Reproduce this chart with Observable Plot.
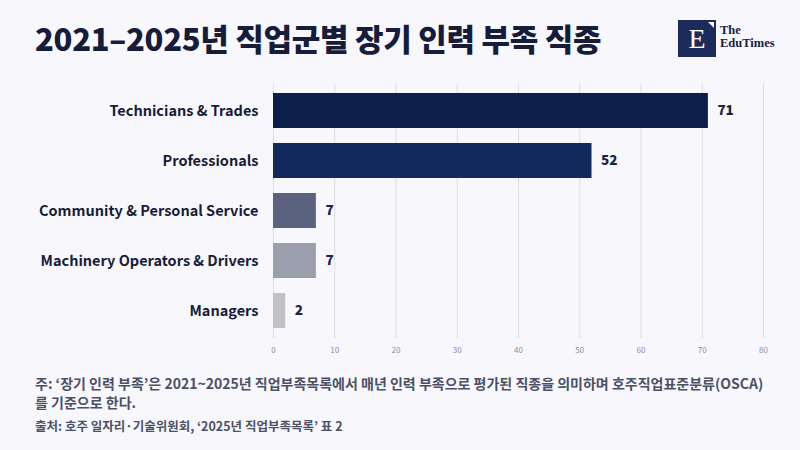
<!DOCTYPE html>
<html><head><meta charset="utf-8">
<script src="https://cdn.jsdelivr.net/npm/d3@7"></script>
<script src="https://cdn.jsdelivr.net/npm/@observablehq/plot@0.6"></script>
<style>
html,body{margin:0;padding:0;background:#f8f8fc;width:800px;height:450px;overflow:hidden;font-family:"Noto Sans CJK KR","Noto Sans",sans-serif;}
#wrap{position:relative;width:800px;height:450px;}
#title{position:absolute;left:35px;top:15px;font-size:31px;font-weight:900;color:#171c3a;letter-spacing:-0.3px;white-space:nowrap;}
#logo{position:absolute;left:678px;top:20px;width:38px;height:37px;background:#1b2b5c;}
#logo .E{position:absolute;left:0;top:0;width:38px;height:37px;text-align:center;line-height:37px;color:#fff;font-family:"Liberation Serif","DejaVu Serif",serif;font-size:28px;}
#logo .tri{position:absolute;right:2px;top:2px;width:0;height:0;border-top:6px solid #fff;border-left:6px solid transparent;}
#logotxt{position:absolute;left:720px;top:24px;font-family:"Liberation Serif","DejaVu Serif",serif;font-size:12.5px;line-height:13px;color:#1b2040;font-weight:700;}
#chart{position:absolute;left:0;top:75px;}
#note{position:absolute;left:35px;top:374px;font-size:14px;line-height:19px;font-weight:600;color:#4b5066;width:760px;white-space:nowrap;}
#src{position:absolute;left:35px;top:416px;font-size:12.5px;font-weight:600;color:#4b5066;}
</style></head>
<body><div id="wrap">
<div id="title">2021–2025년 직업군별 장기 인력 부족 직종</div>
<div id="logo"><div class="E">E</div><div class="tri"></div></div>
<div id="logotxt">The<br>EduTimes</div>
<div id="chart"></div>
<div id="note">주: ‘장기 인력 부족’은 2021~2025년 직업부족목록에서 매년 인력 부족으로 평가된 직종을 의미하며 호주직업표준분류(OSCA)<br>를 기준으로 한다.</div>
<div id="src">출처: 호주 일자리·기술위원회, ‘2025년 직업부족목록’ 표 2</div>
</div>
<script>
const categories = ["Technicians & Trades","Professionals","Community & Personal Service","Machinery Operators & Drivers","Managers"];
const values = [71,52,7,7,2];
const colors = ["#0c1f4b","#132a5f","#5a6280","#9b9eac","#c1c2c9"];
const xTicks = [0,10,20,30,40,50,60,70,80];

const data = categories.map((c,i)=>({cat:c,value:values[i],color:colors[i]}));

const plot = Plot.plot({
  width: 800,
  height: 288,
  marginLeft: 273,
  marginRight: 37,
  marginTop: 8,
  marginBottom: 25,
  style:{background:"transparent",fontFamily:"'Noto Sans CJK KR','Noto Sans',sans-serif"},
  x:{domain:[0,80],ticks:xTicks,label:null},
  y:{domain:categories,label:null,paddingInner:0.3,paddingOuter:0.18},
  marks:[
    Plot.gridX(xTicks,{stroke:"#dcdee5",strokeOpacity:1,strokeWidth:1}),
    Plot.barX(data,{x:"value",y:"cat",fill:"color"}),
    Plot.text(data,{x:"value",y:"cat",text:d=>String(d.value),dx:9,textAnchor:"start",fill:"#1b2445",fontSize:13.5,fontWeight:800}),
    Plot.axisX({ticks:xTicks,tickSize:0,tickPadding:9,fontSize:8,fill:"#8a8e9c",label:null}),
    Plot.axisY({tickSize:0,tickPadding:15,fontSize:14.5,fontWeight:700,fill:"#171c3a",label:null})
  ]
});
document.getElementById("chart").appendChild(plot);
</script>
</body></html>
